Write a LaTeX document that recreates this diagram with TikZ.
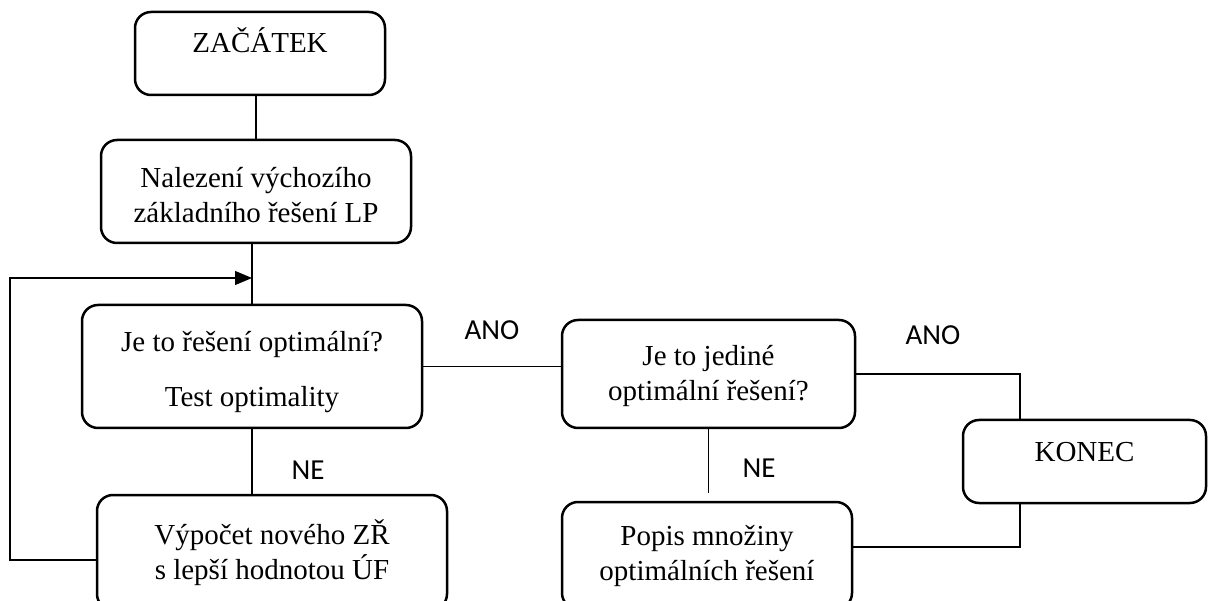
\documentclass[tikz,border=0pt]{standalone}
\usepackage{fontspec}
\setmainfont{Liberation Serif}
\newfontfamily\lblfont{Carlito}
\usetikzlibrary{arrows.meta}
\begin{document}
\begin{tikzpicture}[x=1pt,y=-1pt,
  box/.style={draw, line width=2.5pt, rounded corners=16pt, align=center, inner sep=0pt, font=\fontsize{29}{35}\selectfont},
  conn/.style={line width=1.1pt},
  lbl/.style={font=\lblfont\fontsize{29}{32}\selectfont, inner sep=0pt}]
\clip (0,0) rectangle (1208,601);
\node[box, minimum width=250pt, minimum height=83pt, text height=19pt, text depth=21pt] (zac) at (260,53.5) {ZAČÁTEK};
\node[box, minimum width=310pt, minimum height=103pt] (nal) at (256,191.5) {\rule{0pt}{27pt}Nalezení výchozího\\základního řešení LP};
\node[box, minimum width=340pt, minimum height=123pt] (je) at (252,366.5) {\rule{0pt}{31pt}Je to řešení optimální?\\[20pt]Test optimality};
\node[box, minimum width=350pt, minimum height=115pt] (vyp) at (272,552.5) {Výpočet nového ZŘ\\s lepší hodnotou ÚF};
\node[box, minimum width=293pt, minimum height=108pt] (jed) at (708.5,374) {\rule{0pt}{25pt}Je to jediné\\optimální řešení?};
\node[box, minimum width=290pt, minimum height=107pt] (pop) at (707,555.5) {Popis množiny\\optimálních řešení};
\node[box, minimum width=243pt, minimum height=83pt, text height=19pt, text depth=19pt] (kon) at (1084.5,461.5) {KONEC};

\coordinate (lx) at (10,0);
\coordinate (ay) at (0,278);
\coordinate (ly) at (0,560);
\coordinate (kx) at (1020,0);
\coordinate (by) at (0,547);
\coordinate (pt) at ([yshift=8pt]pop.north);

\draw[conn] (nal.north) -- (nal.north |- zac.south);
\draw[conn] (nal.south -| je.north) -- (je.north);
\draw[conn, -{Triangle[length=17pt,width=14pt]}] (vyp.west |- ly) -| (lx |- ay) -- (je.north |- ay);
\draw[conn] (je.south) -- (je.south |- vyp.north);
\draw[conn] (je.east) -- (je.east -| jed.west);
\draw[conn] (jed.east) -| (kx |- kon.north);
\draw[conn] (kx |- kon.south) |- (pop.east |- by);
\draw[conn] (jed.south) -- (jed.south |- pt);

\node[lbl] (ano1) at (492,330) {ANO};
\node[lbl] (ne1) at (308,470) {NE};
\node[lbl] (ano2) at (933,335) {ANO};
\node[lbl] (ne2) at (759,468) {NE};
\end{tikzpicture}
\end{document}
